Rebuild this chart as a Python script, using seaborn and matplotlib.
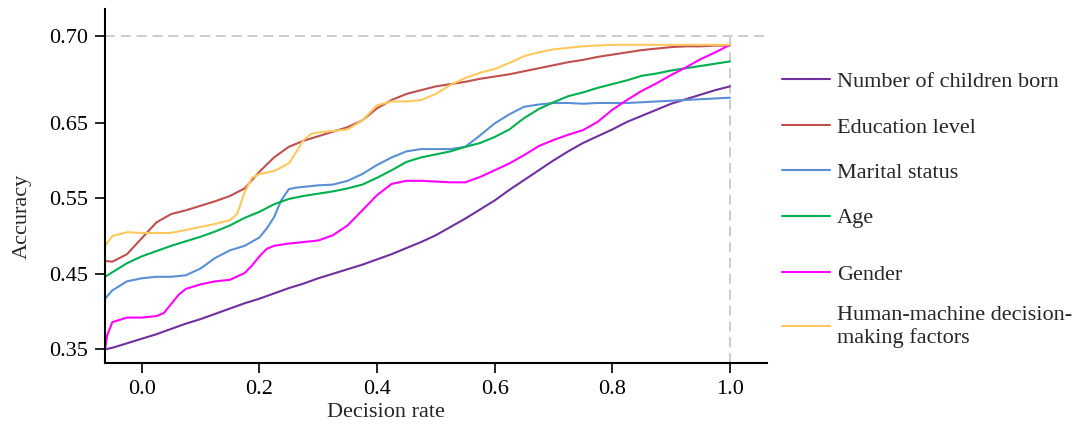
import matplotlib
matplotlib.use("Agg")
import matplotlib.pyplot as plt
import seaborn as sns
import pandas as pd
import numpy as np

# ---------------- data ----------------
rate = [-0.0625, -0.05, -0.025, 0.0, 0.025, 0.05, 0.075, 0.1, 0.125, 0.15, 0.175,
        0.2, 0.225, 0.25, 0.275, 0.3, 0.325, 0.35, 0.375, 0.4, 0.425, 0.45, 0.475,
        0.5, 0.525, 0.55, 0.575, 0.6, 0.625, 0.65, 0.675, 0.7, 0.725, 0.75, 0.775,
        0.8, 0.825, 0.85, 0.875, 0.9, 0.925, 0.95, 0.975, 1.0]

children = [0.350, 0.352, 0.358, 0.364, 0.370, 0.377, 0.384, 0.390, 0.397, 0.404, 0.411,
            0.417, 0.424, 0.431, 0.437, 0.444, 0.450, 0.456, 0.462, 0.469, 0.476, 0.484, 0.492,
            0.501, 0.512, 0.523, 0.535, 0.547, 0.561, 0.574, 0.587, 0.600, 0.612, 0.623, 0.632,
            0.641, 0.651, 0.659, 0.667, 0.675, 0.681, 0.687, 0.693, 0.698]

education = [0.467, 0.466, 0.476, 0.497, 0.518, 0.529, 0.534, 0.540, 0.546, 0.553, 0.563,
             0.585, 0.604, 0.618, 0.626, 0.632, 0.638, 0.644, 0.653, 0.669, 0.680, 0.688, 0.693,
             0.698, 0.701, 0.704, 0.708, 0.711, 0.714, 0.718, 0.722, 0.726, 0.730, 0.733, 0.737,
             0.740, 0.743, 0.746, 0.748, 0.750, 0.751, 0.751, 0.752, 0.752]

marital = [0.417, 0.428, 0.440, 0.444, 0.446, 0.446, 0.448, 0.457, 0.471, 0.481, 0.487,
           0.498, 0.525, 0.562, 0.565, 0.567, 0.568, 0.573, 0.582, 0.594, 0.604, 0.612, 0.615,
           0.615, 0.615, 0.618, 0.633, 0.649, 0.661, 0.671, 0.674, 0.676, 0.676, 0.675, 0.676,
           0.676, 0.676, 0.677, 0.678, 0.679, 0.680, 0.681, 0.682, 0.683]
marital_extra_rate = [0.2125, 0.237, 0.2625]
marital_extra_acc = [0.510, 0.547, 0.564]

age = [0.446, 0.452, 0.464, 0.473, 0.480, 0.487, 0.493, 0.499, 0.506, 0.514, 0.524,
       0.532, 0.542, 0.549, 0.553, 0.556, 0.559, 0.563, 0.568, 0.577, 0.587, 0.598, 0.604,
       0.608, 0.612, 0.618, 0.623, 0.631, 0.641, 0.656, 0.668, 0.677, 0.685, 0.690, 0.696,
       0.701, 0.706, 0.712, 0.715, 0.719, 0.722, 0.725, 0.728, 0.731]

gender = [0.350, 0.386, 0.392, 0.392, 0.394, 0.410, 0.430, 0.436, 0.440, 0.442, 0.451,
          0.473, 0.487, 0.490, 0.492, 0.494, 0.501, 0.514, 0.534, 0.554, 0.569, 0.573, 0.573,
          0.572, 0.571, 0.571, 0.578, 0.587, 0.596, 0.607, 0.619, 0.627, 0.634, 0.640, 0.651,
          0.667, 0.680, 0.692, 0.702, 0.713, 0.723, 0.734, 0.743, 0.753]
gender_extra_rate = [-0.059, 0.0375, 0.0625, 0.1875, 0.2125]
gender_extra_acc = [0.368, 0.398, 0.422, 0.461, 0.483]

human_machine = [0.487, 0.500, 0.505, 0.504, 0.504, 0.504, 0.508, 0.512, 0.516, 0.521, 0.558,
                 0.582, 0.586, 0.596, 0.627, 0.637, 0.639, 0.641, 0.653, 0.673, 0.678, 0.678, 0.680,
                 0.688, 0.700, 0.709, 0.716, 0.721, 0.729, 0.738, 0.743, 0.747, 0.749, 0.751, 0.752,
                 0.753, 0.753, 0.753, 0.753, 0.753, 0.753, 0.753, 0.753, 0.753]
human_machine_extra_rate = [0.162, 0.1875, 0.2625, 0.2875]
human_machine_extra_acc = [0.529, 0.577, 0.611, 0.635]

labels = ["Number of children born", "Education level", "Marital status", "Age",
          "Gender", "Human-machine decision-\nmaking factors"]
colors = ["#7030A0", "#C0504D", "#5A8FD6", "#00B050", "#FF00FF", "#FFC85E"]

x_ticks = [0.0, 0.2, 0.4, 0.6, 0.8, 1.0]
x_ticklabels = ["0.0", "0.2", "0.4", "0.6", "0.8", "1.0"]
y_ticks = [0.35, 0.45, 0.55, 0.65, 0.765]
y_ticklabels = ["0.35", "0.45", "0.55", "0.65", "0.70"]

# ---------------- build long table ----------------
series = [
    (children, [], []),
    (education, [], []),
    (marital, marital_extra_rate, marital_extra_acc),
    (age, [], []),
    (gender, gender_extra_rate, gender_extra_acc),
    (human_machine, human_machine_extra_rate, human_machine_extra_acc),
]
frames = []
for lab, (vals, xr, xa) in zip(labels, series):
    frames.append(pd.DataFrame({"rate": list(rate) + list(xr),
                                "acc": list(vals) + list(xa),
                                "factor": lab}))
df = pd.concat(frames, ignore_index=True)

# ---------------- style ----------------
sns.set_theme(style="ticks")
plt.rcParams["font.family"] = ["Liberation Serif", "DejaVu Serif"]

FS = 16
fig = plt.figure(figsize=(10.72, 4.32), dpi=100)
ax = fig.add_axes([105 / 1072, 1 - 363.3 / 432, (767 - 105) / 1072, (363.3 - 9.3) / 432])

sns.lineplot(data=df, x="rate", y="acc", hue="factor", hue_order=labels,
             palette=dict(zip(labels, colors)), linewidth=1.5, estimator=None,
             sort=True, ax=ax, legend=False)
for ln in ax.lines:
    ln.set_solid_joinstyle("round")
    ln.set_solid_capstyle("round")

xmin, xmax = -0.0625, 1.063
ax.set_xlim(xmin, xmax)
ax.set_ylim(0.3315, 0.80)

ax.axhline(y_ticks[-1], color="#c4c4c4", linestyle=(0, (6, 3.5)), linewidth=1.2, zorder=0)
ax.vlines(x_ticks[-1], 0.3315, y_ticks[-1], color="#c4c4c4", linestyle=(0, (6, 3.5)),
          linewidth=1.2, zorder=0)

ax.set_xticks(x_ticks)
ax.set_xticklabels(x_ticklabels)
ax.set_yticks(y_ticks)
ax.set_yticklabels(y_ticklabels)
ax.tick_params(axis="both", labelsize=FS, length=7, width=1.2, color="black",
               direction="out", pad=5, labelcolor="black")

for s in ["top", "right"]:
    ax.spines[s].set_visible(False)
for s in ["left", "bottom"]:
    ax.spines[s].set_linewidth(1.5)
    ax.spines[s].set_color("black")

ax.set_xlabel("Decision rate", fontsize=FS)
ax.set_ylabel("Accuracy", fontsize=FS)
ax.xaxis.set_label_coords((386 - 105) / 662, (363.3 - 403) / 354)
ax.yaxis.set_label_coords((32 - 105) / 662, (363.3 - 216) / 354)

handles = [plt.Line2D([0], [0], color=c, linewidth=1.5) for c in colors]
leg1 = fig.legend(handles[:4], labels[:4], loc="upper left",
                  bbox_to_anchor=(766 / 1072, 1 - 56 / 432),
                  frameon=False, fontsize=FS, handlelength=2.2, handletextpad=0.3,
                  labelspacing=1.12, borderpad=0.2)
leg2 = fig.legend(handles[4:], labels[4:], loc="upper left",
                  bbox_to_anchor=(766 / 1072, 1 - 249 / 432),
                  frameon=False, fontsize=FS, handlelength=2.2, handletextpad=0.3,
                  labelspacing=0.95, borderpad=0.2)

fig.savefig("out.png", dpi=100)
